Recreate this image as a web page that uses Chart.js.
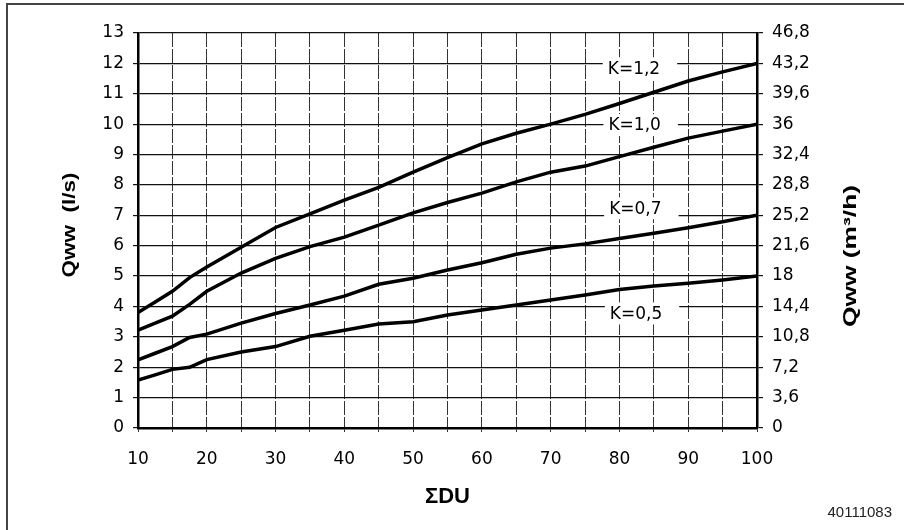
<!DOCTYPE html>
<html lang="de">
<head>
<meta charset="UTF-8">
<title>Qww über ΣDU</title>
<style>
  body { margin: 0; background: #fff; }
  #wrap { width: 904px; height: 530px; }
</style>
<script src="https://cdn.jsdelivr.net/npm/chart.js"></script>
</head>
<body>
<div id="wrap"><canvas id="qwwChart" width="904" height="530"></canvas></div>
<script>
// Summe der Durchflusswerte (x) und Qww in l/s je Faktor K
const du   = [10, 12.5, 15, 17.5, 20, 25, 30, 35, 40, 45, 50, 55, 60, 65, 70, 75, 80, 85, 90, 95, 100];
const qK12 = [3.8, 4.15, 4.5, 4.95, 5.3, 5.95, 6.6, 7.05, 7.5, 7.92, 8.42, 8.9, 9.35, 9.7, 10.0, 10.32, 10.68, 11.05, 11.42, 11.72, 12.0];
const qK10 = [3.22, 3.45, 3.68, 4.07, 4.5, 5.1, 5.58, 5.97, 6.28, 6.68, 7.08, 7.42, 7.73, 8.1, 8.42, 8.62, 8.93, 9.24, 9.54, 9.77, 10.0];
const qK07 = [2.24, 2.46, 2.68, 2.98, 3.09, 3.45, 3.77, 4.05, 4.34, 4.73, 4.93, 5.2, 5.44, 5.72, 5.92, 6.06, 6.24, 6.41, 6.59, 6.79, 7.0];
const qK05 = [1.58, 1.75, 1.93, 2.0, 2.25, 2.5, 2.68, 3.02, 3.22, 3.42, 3.5, 3.72, 3.88, 4.05, 4.21, 4.38, 4.56, 4.67, 4.76, 4.87, 5.0];
const kNames = ['K=1,2', 'K=1,0', 'K=0,7', 'K=0,5'];

// tick labels
const leftTicks  = ['0', '1', '2', '3', '4', '5', '6', '7', '8', '9', '10', '11', '12', '13'];
const rightTicks = ['0', '3,6', '7,2', '10,8', '14,4', '18', '21,6', '25,2', '28,8', '32,4', '36', '39,6', '43,2', '46,8'];

const series = [qK12, qK10, qK07, qK05];
const tickFont = { family: '"DejaVu Sans", sans-serif', size: 17 };

// where the K labels sit (data units: left edge of text, vertical centre)
const notePos = [[78.3, 11.84], [78.4, 9.97], [78.5, 7.23], [78.6, 3.77]];

// rotated axis title, stretched to the width it has in the drawing
function sideTitle(ctx, text, cx, cy, width) {
  ctx.save();
  ctx.fillStyle = '#000';
  ctx.font = 'bold 18px "Liberation Sans", Arial, sans-serif';
  ctx.textAlign = 'center';
  ctx.textBaseline = 'middle';
  ctx.translate(cx, cy);
  ctx.rotate(-Math.PI / 2);
  ctx.scale(width / ctx.measureText(text).width, 1);
  ctx.fillText(text, 0, 0);
  ctx.restore();
}

const extras = {
  id: 'extras',
  afterDatasetsDraw(chart) {
    const { ctx, scales: { x, y } } = chart;
    ctx.save();
    ctx.font = '17px "DejaVu Sans", sans-serif';
    ctx.textBaseline = 'middle';
    kNames.forEach((name, i) => {
      const tx = x.getPixelForValue(notePos[i][0]);
      const ty = y.getPixelForValue(notePos[i][1]);
      const w = ctx.measureText(name).width;
      ctx.fillStyle = '#fff';
      ctx.fillRect(tx - 5, ty - 11, w + 22, 22);
      ctx.fillStyle = '#000';
      ctx.textAlign = 'left';
      ctx.fillText(name, tx, ty + 1);
    });
    ctx.restore();
  },
  afterDraw(chart) {
    const { ctx } = chart;
    ctx.save();
    // outer frame
    ctx.strokeStyle = '#444';
    ctx.lineWidth = 2;
    ctx.beginPath();
    ctx.moveTo(7, 530);
    ctx.lineTo(7, 4);
    ctx.lineTo(904, 4);
    ctx.stroke();
    ctx.restore();

    sideTitle(ctx, 'Qww  (l/s)', 70, 225, 105);
    sideTitle(ctx, 'Qww (m³/h)', 851, 256, 142);

    // drawing number
    ctx.save();
    ctx.fillStyle = '#222';
    ctx.font = '15px "Liberation Sans", Arial';
    ctx.textAlign = 'right';
    ctx.textBaseline = 'middle';
    ctx.fillText('40111083', 892, 513);
    ctx.restore();
  }
};

new Chart(document.getElementById('qwwChart'), {
  type: 'line',
  data: {
    datasets: series.map((s, i) => ({
      label: kNames[i],
      data: du.map((d, j) => ({ x: d, y: s[j] })),
      borderColor: '#000',
      borderWidth: 3.5,
      pointRadius: 0,
      tension: 0,
      fill: false
    }))
  },
  options: {
    responsive: false,
    animation: false,
    layout: { padding: { top: 33, left: 0, right: 0, bottom: 0 } },
    plugins: { legend: { display: false }, tooltip: { enabled: false } },
    scales: {
      x: {
        type: 'linear',
        min: 10, max: 100,
        ticks: {
          stepSize: 5,
          color: '#000',
          font: tickFont,
          padding: 17,
          maxRotation: 0,
          autoSkip: false,
          callback: v => (v % 10 === 0 ? String(v) : '')
        },
        grid: { color: '#333', lineWidth: 1, tickLength: 4 },
        border: { display: true, color: '#000', width: 2.5, dash: [14, 2] },
        title: {
          display: true, text: 'ΣDU', color: '#000',
          font: { family: '"Liberation Sans", Arial, sans-serif', size: 22, weight: 'bold' },
          padding: { bottom: 20 }
        },
        afterFit: s => { s.height = 102; }
      },
      y: {
        min: 0, max: 13,
        ticks: {
          stepSize: 1,
          color: '#000',
          font: tickFont,
          padding: 9,
          callback: v => leftTicks[v]
        },
        grid: { color: '#111', lineWidth: 1.2, tickLength: 5 },
        border: { display: true, color: '#000', width: 2.5 },
        afterFit: s => { s.width = 138; }
      },
      y2: {
        position: 'right',
        min: 0, max: 46.8,
        afterBuildTicks: s => { s.ticks = rightTicks.map((t, i) => ({ value: i * 3.6 })); },
        ticks: {
          color: '#000',
          font: tickFont,
          padding: 9,
          callback: (v, i) => rightTicks[i]
        },
        grid: { drawOnChartArea: false, color: '#111', lineWidth: 1.2, tickLength: 6 },
        border: { display: true, color: '#000', width: 2.5 },
        afterFit: s => { s.width = 147; }
      }
    }
  },
  plugins: [extras]
});
</script>
</body>
</html>
